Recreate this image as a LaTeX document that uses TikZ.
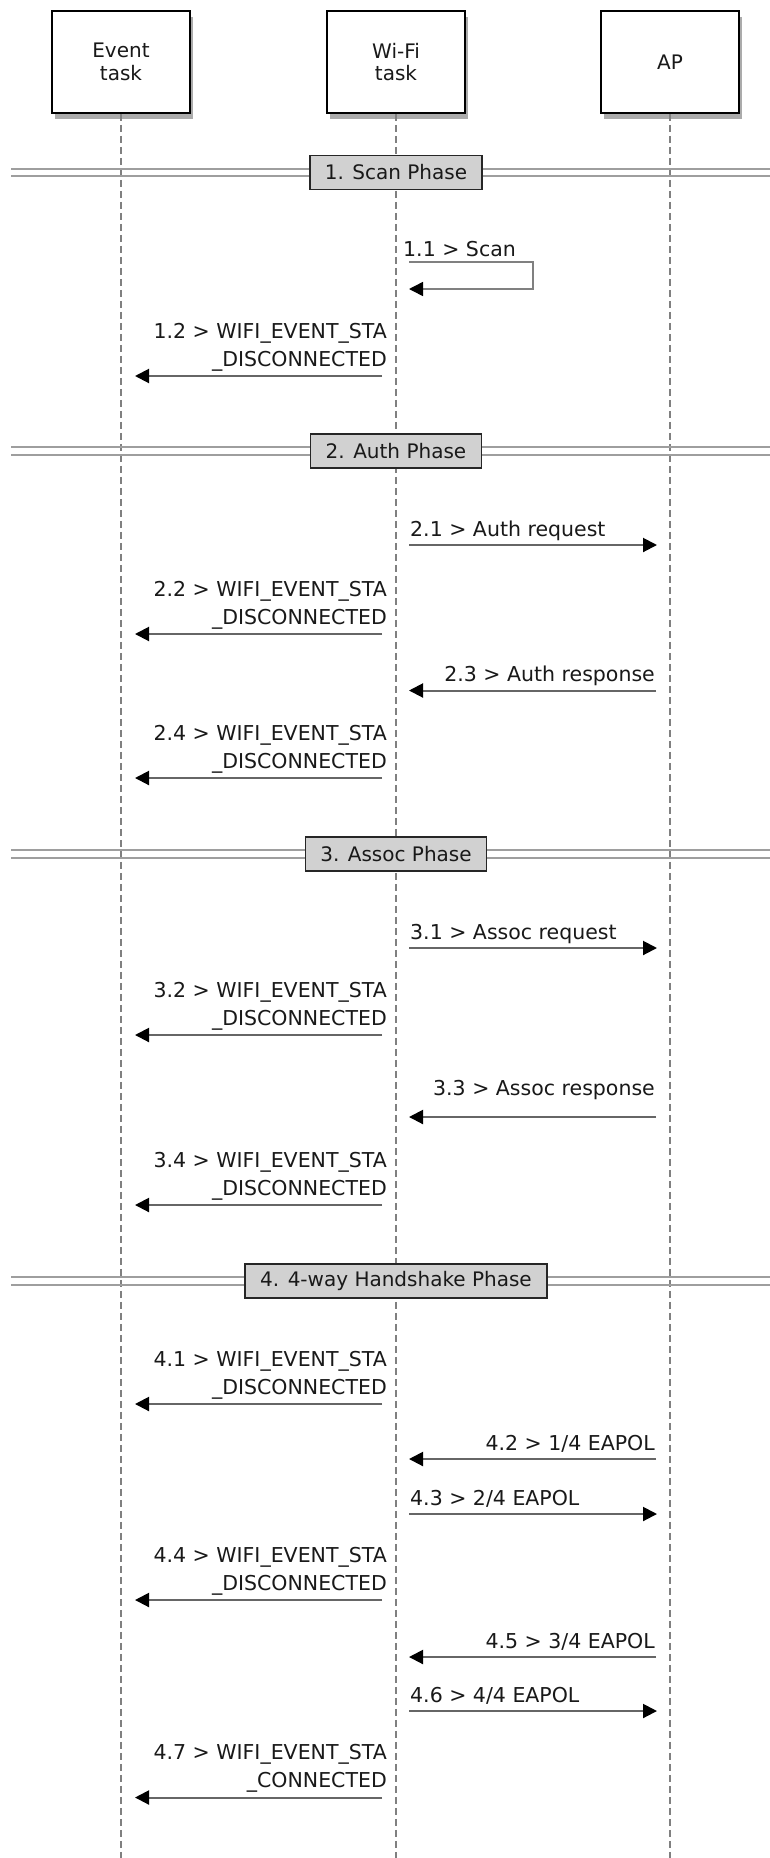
\documentclass[tikz,border=0pt]{standalone}
\usepackage{fontspec}
\setmainfont{DejaVu Sans}
\usetikzlibrary{arrows.meta,shadows}
\tikzset{
  actor/.style={draw=black, line width=1.5pt, fill=white, minimum width=138pt, minimum height=102pt,
    align=center, inner sep=0pt, text=black!90, font=\fontsize{20}{22.3}\selectfont,
    drop shadow={shadow xshift=3pt, shadow yshift=-6pt, fill=black!55, opacity=0.6}},
  lifeline/.style={draw=black!50, line width=1.2pt, dash pattern=on 7pt off 4pt},
  phaseline/.style={draw=black!38, line width=2pt},
  phasebox/.style={draw=black!85, line width=1.5pt, fill=black!18, minimum height=34pt,
    inner xsep=15pt, inner ysep=0pt, text=black!90, font=\fontsize{20}{24}\selectfont},
  msg/.style={draw=black!60, line width=2pt, -{Triangle[length=14pt,width=14pt,color=black]}},
  loopmsg/.style={draw=black!50, line width=1.5pt, -{Triangle[length=14pt,width=14pt,color=black]}},
  lbl/.style={inner sep=0pt, text=black!90, font=\fontsize{20.5}{27.7}\selectfont}
}
% Wi-Fi task -> Event task (two-line label)
\newcommand\wfevmsg[3]{%
  \coordinate (#1s) at (382,#2); \coordinate (#1e) at (135,#2);
  \draw[msg] (#1s) -- (#1e);
  \node[lbl, anchor=base east] (#1t) at (387,{#2-10}) {\begin{tabular}[b]{@{}r@{}}#3\end{tabular}};}
% Wi-Fi task -> AP
\newcommand\wfapmsg[3]{%
  \coordinate (#1s) at (409,#2); \coordinate (#1e) at (657,#2);
  \draw[msg] (#1s) -- (#1e);
  \node[lbl, anchor=base west] (#1t) at (410,{#2-9}) {#3};}
% AP -> Wi-Fi task
\newcommand\apwfmsg[4]{%
  \coordinate (#1s) at (656,#2); \coordinate (#1e) at (409,#2);
  \draw[msg] (#1s) -- (#1e);
  \node[lbl, anchor=base east] (#1t) at (655,{#2-#4}) {#3};}
% phase separator
\newcommand\phasebar[3]{%
  \coordinate (#1La) at (11,{#2-3.8}); \coordinate (#1Ra) at (770,{#2-3.8});
  \coordinate (#1Lb) at (11,{#2+3.8}); \coordinate (#1Rb) at (770,{#2+3.8});
  \draw[phaseline] (#1La) -- (#1Ra);
  \draw[phaseline] (#1Lb) -- (#1Rb);
  \node[phasebox] (#1) at (396,#2) {#3};}
\begin{document}
\begin{tikzpicture}[x=1pt,y=-1pt]
\useasboundingbox[fill=white] (0,0) rectangle (770,1858);
% participants
\node[actor] (ev) at (121,62) {Event\\task};
\node[actor] (wf) at (396,62) {Wi-Fi\\task};
\node[actor] (ap) at (670,62) {AP};
\coordinate (evEnd) at (121,1858);
\coordinate (wfEnd) at (396,1858);
\coordinate (apEnd) at (670,1858);
\draw[lifeline] (ev.south) -- (evEnd);
\draw[lifeline] (wf.south) -- (wfEnd);
\draw[lifeline] (ap.south) -- (apEnd);
% 1. Scan
\phasebar{ph1}{172.5}{1. Scan Phase}
\coordinate (m11a) at (409,262);
\coordinate (m11b) at (533,262);
\coordinate (m11c) at (533,289);
\coordinate (m11d) at (409,289);
\draw[loopmsg] (m11a) -- (m11b) -- (m11c) -- (m11d);
\node[lbl, anchor=base west] (m11t) at (403,256) {1.1 > Scan};
\wfevmsg{m12}{376}{1.2 > WIFI\_EVENT\_STA\\\_DISCONNECTED}
% 2. Auth
\phasebar{ph2}{451}{2. Auth Phase}
\wfapmsg{m21}{545}{2.1 > Auth request}
\wfevmsg{m22}{634}{2.2 > WIFI\_EVENT\_STA\\\_DISCONNECTED}
\apwfmsg{m23}{690.5}{2.3 > Auth response}{9}
\wfevmsg{m24}{778}{2.4 > WIFI\_EVENT\_STA\\\_DISCONNECTED}
% 3. Assoc
\phasebar{ph3}{854}{3. Assoc Phase}
\wfapmsg{m31}{948}{3.1 > Assoc request}
\wfevmsg{m32}{1035}{3.2 > WIFI\_EVENT\_STA\\\_DISCONNECTED}
\apwfmsg{m33}{1117}{3.3 > Assoc response}{22}
\wfevmsg{m34}{1205}{3.4 > WIFI\_EVENT\_STA\\\_DISCONNECTED}
% 4. 4-way handshake
\phasebar{ph4}{1281}{4. 4-way Handshake Phase}
\wfevmsg{m41}{1404}{4.1 > WIFI\_EVENT\_STA\\\_DISCONNECTED}
\apwfmsg{m42}{1459}{4.2 > 1/4 EAPOL}{9}
\wfapmsg{m43}{1514}{4.3 > 2/4 EAPOL}
\wfevmsg{m44}{1600}{4.4 > WIFI\_EVENT\_STA\\\_DISCONNECTED}
\apwfmsg{m45}{1657}{4.5 > 3/4 EAPOL}{9}
\wfapmsg{m46}{1711}{4.6 > 4/4 EAPOL}
\wfevmsg{m47}{1797.5}{4.7 > WIFI\_EVENT\_STA\\\_CONNECTED}
\end{tikzpicture}
\end{document}
